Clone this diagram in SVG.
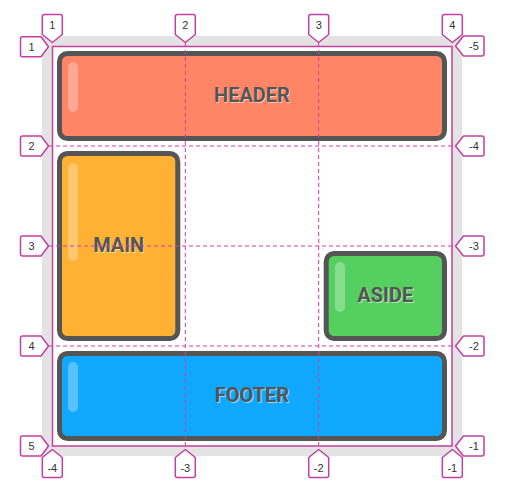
<svg xmlns="http://www.w3.org/2000/svg" width="514" height="502" viewBox="0 0 514 502">
<defs>
<style>
.box{stroke:#555;stroke-width:5}
.hl{fill:#fff;opacity:0.3}
.lbl{font-family:Roboto,"Liberation Sans",sans-serif;font-weight:700;font-size:20px;text-anchor:middle;fill:#555}
.sh{font-family:Roboto,"Liberation Sans",sans-serif;font-weight:700;font-size:20px;text-anchor:middle;fill:#fff;opacity:0.55}
.tag{fill:#fff;stroke:#C2409F;stroke-width:1.5;stroke-linejoin:round}
.tt{font-family:"Liberation Sans",Arial,sans-serif;font-size:11px;fill:#333;text-anchor:middle}
.dash{stroke:#D43DA8;stroke-width:1;stroke-dasharray:4 3;fill:none}
</style>
</defs>
<rect x="42" y="36" width="420" height="420" fill="#E3E3E3"/>
<rect x="52" y="46" width="400" height="400" fill="#fff"/>

<g id="header">
<rect class="box" x="59.5" y="53.5" width="385" height="85" rx="8" fill="#FF8566"/>
<rect class="hl" x="68" y="62" width="10" height="50" rx="5"/>
<text class="sh" x="253" y="103">HEADER</text>
<text class="lbl" x="252" y="102">HEADER</text>
</g>
<g id="main">
<rect class="box" x="59.5" y="153.5" width="118.3" height="185" rx="8" fill="#FFB133"/>
<rect class="hl" x="68" y="163" width="10" height="98" rx="5"/>
<text class="sh" x="119.7" y="253">MAIN</text>
<text class="lbl" x="118.7" y="252">MAIN</text>
</g>
<g id="aside">
<rect class="box" x="326.2" y="253.5" width="118.3" height="85" rx="8" fill="#55D060"/>
<rect class="hl" x="335" y="262" width="10" height="50" rx="5"/>
<text class="sh" x="386.3" y="303">ASIDE</text>
<text class="lbl" x="385.3" y="302">ASIDE</text>
</g>
<g id="footer">
<rect class="box" x="59.5" y="353.5" width="385" height="85" rx="8" fill="#11A8FF"/>
<rect class="hl" x="68" y="362" width="10" height="50" rx="5"/>
<text class="sh" x="253" y="403">FOOTER</text>
<text class="lbl" x="252" y="402">FOOTER</text>
</g>

<g id="grid-lines">
<rect x="52.5" y="46.5" width="399.5" height="399.5" fill="none" stroke="#C2409F" stroke-width="1.5"/>
<line class="dash" x1="185.3" y1="43" x2="185.3" y2="449"/>
<line class="dash" x1="318.7" y1="43" x2="318.7" y2="449"/>
<line class="dash" x1="49" y1="146" x2="456" y2="146"/>
<line class="dash" x1="49" y1="246" x2="456" y2="246"/>
<line class="dash" x1="49" y1="346" x2="456" y2="346"/>
</g>

<g id="tags-top">
<path class="tag" d="M42.3 34.5 V16.5 Q42.3 14.5 44.3 14.5 H60.3 Q62.3 14.5 62.3 16.5 V34.5 L52.3 42.5 Z"/>
<text class="tt" x="52.3" y="28.5">1</text>
<path class="tag" d="M175.3 34.5 V16.5 Q175.3 14.5 177.3 14.5 H193.3 Q195.3 14.5 195.3 16.5 V34.5 L185.3 42.5 Z"/>
<text class="tt" x="185.3" y="28.5">2</text>
<path class="tag" d="M308.7 34.5 V16.5 Q308.7 14.5 310.7 14.5 H326.7 Q328.7 14.5 328.7 16.5 V34.5 L318.7 42.5 Z"/>
<text class="tt" x="318.7" y="28.5">3</text>
<path class="tag" d="M442.3 34.5 V16.5 Q442.3 14.5 444.3 14.5 H460.3 Q462.3 14.5 462.3 16.5 V34.5 L452.3 42.5 Z"/>
<text class="tt" x="452.3" y="28.5">4</text>
</g>
<g id="tags-bottom">
<path class="tag" d="M42.3 457.5 V475.5 Q42.3 477.5 44.3 477.5 H60.3 Q62.3 477.5 62.3 475.5 V457.5 L52.3 449.5 Z"/>
<text class="tt" x="52.3" y="471.5">-4</text>
<path class="tag" d="M175.3 457.5 V475.5 Q175.3 477.5 177.3 477.5 H193.3 Q195.3 477.5 195.3 475.5 V457.5 L185.3 449.5 Z"/>
<text class="tt" x="185.3" y="471.5">-3</text>
<path class="tag" d="M308.7 457.5 V475.5 Q308.7 477.5 310.7 477.5 H326.7 Q328.7 477.5 328.7 475.5 V457.5 L318.7 449.5 Z"/>
<text class="tt" x="318.7" y="471.5">-2</text>
<path class="tag" d="M442.3 457.5 V475.5 Q442.3 477.5 444.3 477.5 H460.3 Q462.3 477.5 462.3 475.5 V457.5 L452.3 449.5 Z"/>
<text class="tt" x="452.3" y="471.5">-1</text>
</g>
<g id="tags-left">
<path class="tag" d="M41 36.7 H22.5 Q20.5 36.7 20.5 38.7 V54.7 Q20.5 56.7 22.5 56.7 H41 L48.5 46.7 Z"/>
<text class="tt" x="31.5" y="50.5">1</text>
<path class="tag" d="M41 136 H22.5 Q20.5 136 20.5 138 V154 Q20.5 156 22.5 156 H41 L48.5 146 Z"/>
<text class="tt" x="31.5" y="150">2</text>
<path class="tag" d="M41 236 H22.5 Q20.5 236 20.5 238 V254 Q20.5 256 22.5 256 H41 L48.5 246 Z"/>
<text class="tt" x="31.5" y="250">3</text>
<path class="tag" d="M41 336 H22.5 Q20.5 336 20.5 338 V354 Q20.5 356 22.5 356 H41 L48.5 346 Z"/>
<text class="tt" x="31.5" y="350">4</text>
<path class="tag" d="M41 436 H22.5 Q20.5 436 20.5 438 V454 Q20.5 456 22.5 456 H41 L48.5 446 Z"/>
<text class="tt" x="31.5" y="450">5</text>
</g>
<g id="tags-right">
<path class="tag" d="M463.5 36 H482 Q484 36 484 38 V54 Q484 56 482 56 H463.5 L455.5 46 Z"/>
<text class="tt" x="474" y="50">-5</text>
<path class="tag" d="M463.5 136 H482 Q484 136 484 138 V154 Q484 156 482 156 H463.5 L455.5 146 Z"/>
<text class="tt" x="474" y="150">-4</text>
<path class="tag" d="M463.5 236 H482 Q484 236 484 238 V254 Q484 256 482 256 H463.5 L455.5 246 Z"/>
<text class="tt" x="474" y="250">-3</text>
<path class="tag" d="M463.5 336 H482 Q484 336 484 338 V354 Q484 356 482 356 H463.5 L455.5 346 Z"/>
<text class="tt" x="474" y="350">-2</text>
<path class="tag" d="M463.5 436 H482 Q484 436 484 438 V454 Q484 456 482 456 H463.5 L455.5 446 Z"/>
<text class="tt" x="474" y="450">-1</text>
</g>
</svg>
